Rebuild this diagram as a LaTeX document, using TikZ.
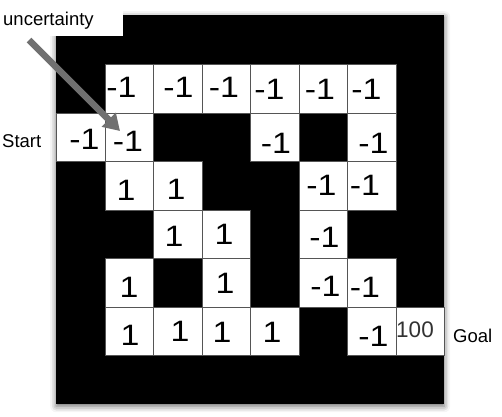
\documentclass[tikz,border=0pt]{standalone}
\usepackage{fontspec}
\setmainfont{Liberation Sans}
\newfontfamily\numfont[FakeStretch=1.15]{Liberation Sans}
\usetikzlibrary{shadows.blur,arrows.meta}
\definecolor{arrowgray}{RGB}{112,112,112}
\definecolor{edgegray}{RGB}{85,85,85}
\definecolor{goalgray}{RGB}{50,50,50}
\tikzset{
  cellbox/.style={draw=edgegray, line width=1pt, fill=white, minimum width=48.5pt, minimum height=48.5pt, inner sep=0pt, anchor=north west},
  numtext/.style={inner sep=0pt, font=\numfont\fontsize{29.5}{29.5}\selectfont},
  goaltext/.style={inner sep=0pt, text=goalgray, font=\fontsize{22.5}{22.5}\selectfont},
  lbl/.style={inner sep=0pt, font=\fontsize{18.5}{18.5}\selectfont},
}
\begin{document}
\begin{tikzpicture}[x=1pt,y=-1pt]
\useasboundingbox (0,0) rectangle (502,416);
% board
\node[fill=black, minimum width=388pt, minimum height=389pt, inner sep=0pt, anchor=north west,
  blur shadow={shadow xshift=0pt, shadow yshift=-2pt, shadow blur radius=6pt, shadow opacity=60}] (board) at (56,15) {};
% cells: col/row/text/cx/cy
\foreach \c/\r/\t/\cx/\cy [count=\i] in {
  1/1/-1/121.5/87, 2/1/-1/178.5/87, 3/1/-1/224/87, 4/1/-1/269.5/89, 5/1/-1/320/89, 6/1/-1/366.5/89,
  0/2/-1/84.5/139, 1/2/-1/128/141.5, 4/2/-1/276/143.5, 6/2/-1/373.5/143,
  1/3/1/126/190, 2/3/1/176/189, 5/3/-1/321.5/185, 6/3/-1/365/185,
  2/4/1/174/236, 3/4/1/224/234, 5/4/-1/324.5/237,
  1/5/1/129/287.5, 3/5/1/225/283.5, 5/5/-1/325.5/286, 6/5/-1/365/287,
  1/6/1/130/335, 2/6/1/180/331, 3/6/1/222/332.5, 4/6/1/272/332.5, 6/6/-1/373.5/336}{
  \node[cellbox] (cell\c\r) at ({56+48.5*\c},{15.5+48.5*\r}) {};
  \node[numtext] (num\c\r) at (\cx,\cy) {\t};
}
\node[cellbox] (cell76) at ({56+48.5*7},{15.5+48.5*6}) {};
\node[goaltext] (num76) at (415,330) {100};
% labels
\node[lbl, anchor=base west] (start) at (2,147) {Start};
\node[lbl, anchor=base west] (goal) at (453,342) {Goal};
\node[fill=white, minimum width=123pt, minimum height=36pt, inner sep=0pt, anchor=north west] (ubox) at (0,0) {};
\node[lbl, anchor=base west] (unc) at (3,25.5) {uncertainty};
% arrow
\coordinate (astart) at (29,40);
\coordinate (aend) at (120,131);
\draw[arrowgray, line width=6.5pt, -{Triangle[width=19pt,length=16pt]}] (astart) -- (aend);
\end{tikzpicture}
\end{document}
